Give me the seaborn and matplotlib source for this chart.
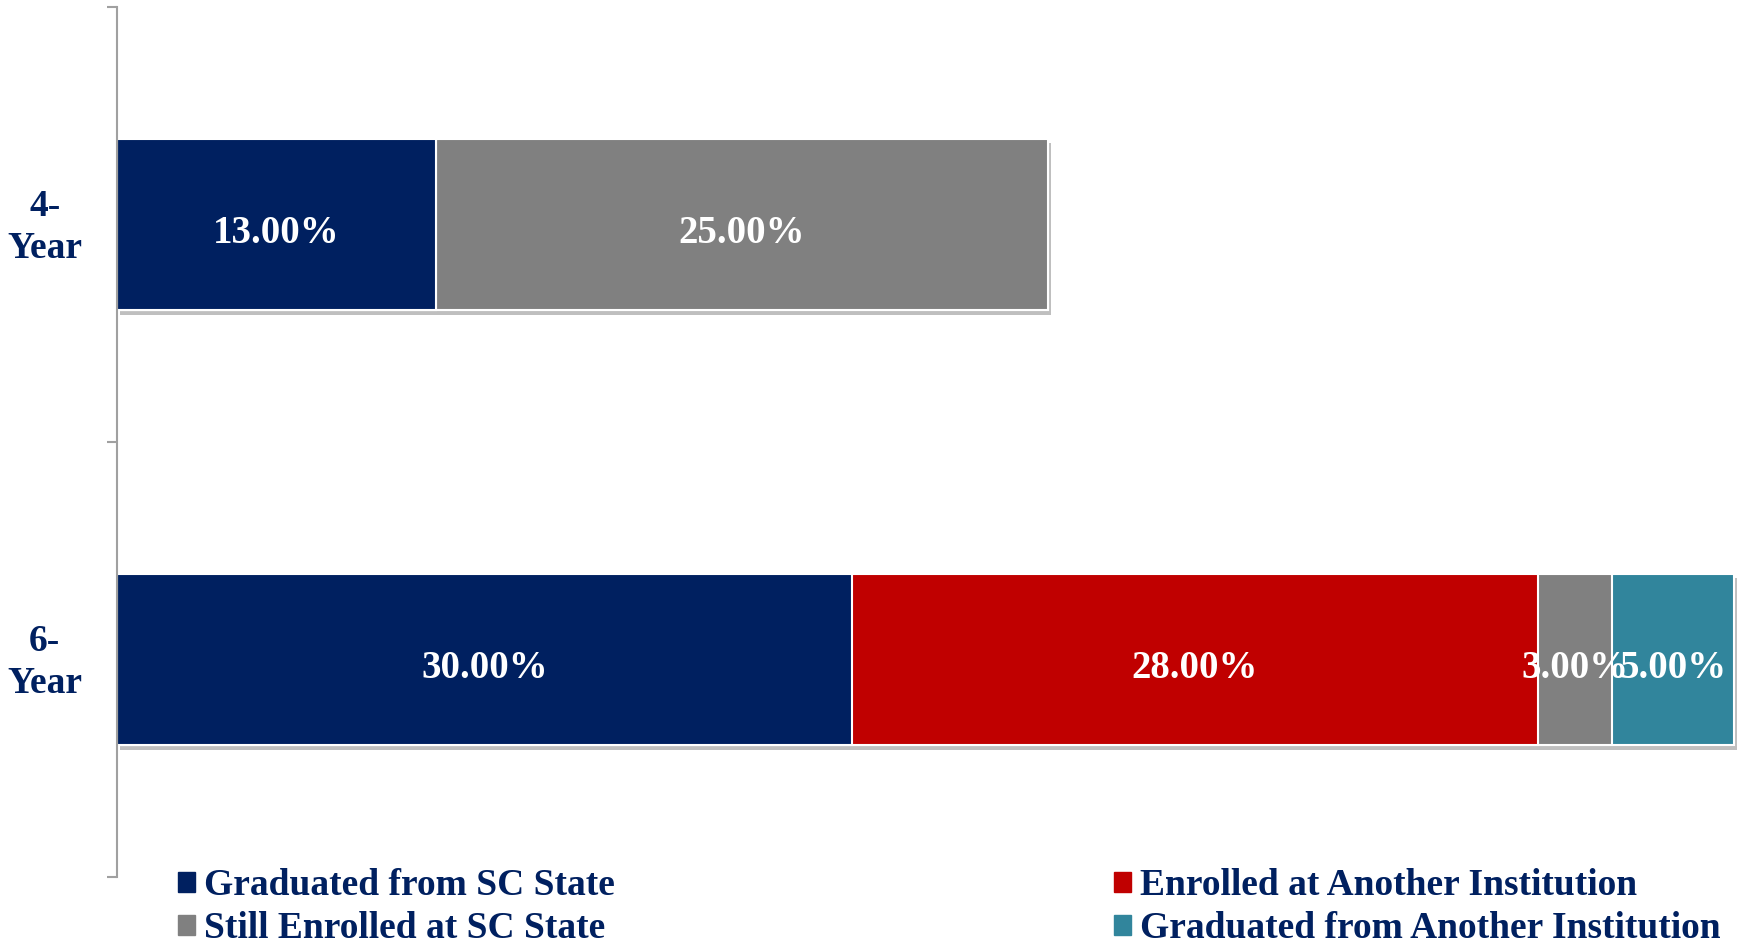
import numpy as np
import pandas as pd
import matplotlib
matplotlib.use("Agg")
import matplotlib.pyplot as plt
import matplotlib.patheffects as pe
from matplotlib.patches import Patch
import seaborn as sns

# data
categories = ["4-\nYear", "6-\nYear"]
series = ["Graduated from SC State", "Enrolled at Another Institution",
          "Still Enrolled at SC State", "Graduated from Another Institution"]
graduated_sc = [13, 30]
enrolled_other = [0, 28]
still_enrolled = [25, 3]
graduated_other = [0, 5]
colors = ["#002060", "#C00000", "#808080", "#31859C"]
navy = "#002060"

sns.set_style("white")
plt.rcParams['font.family'] = ['Liberation Serif', 'DejaVu Serif']
plt.rcParams['font.weight'] = 'bold'

W, H = 1742, 947
fig = plt.figure(figsize=(W / 100, H / 100), dpi=100)
ax = fig.add_axes([117 / W, 1 - 877 / H, 1 - 117 / W, 870 / H])

values = np.array([graduated_sc, enrolled_other, still_enrolled, graduated_other])
cum = values.cumsum(axis=0)

# draw cumulative bars from the longest down so each segment sits on top
for i in reversed(range(len(series))):
    df = pd.DataFrame({"year": categories, "pct": cum[i]})
    n_before = len(ax.patches)
    sns.barplot(data=df, x="pct", y="year", orient="h", color=colors[i],
                width=0.395, saturation=1, errorbar=None,
                edgecolor="white", linewidth=1.5, ax=ax)
    if i == len(series) - 1:
        for p in ax.patches[n_before:]:
            p.set_path_effects([pe.SimplePatchShadow(offset=(2, -3), shadow_rgbFace="black", alpha=0.25),
                                pe.Normal()])

# segment labels
for j in range(len(categories)):
    left = 0
    for i in range(len(series)):
        v = values[i, j]
        if v > 0:
            ax.text(left + v / 2, j + 0.02, f"{v:.2f}%", ha="center", va="center",
                    color="white", fontsize=28, fontweight="bold")
        left += v

ax.set_xlim(0, (W - 117) / 24.5)
ax.set_ylim(1.5, -0.5)
ax.xaxis.set_visible(False)
ax.set_xlabel("")
ax.set_ylabel("")
for s in ["top", "right", "bottom"]:
    ax.spines[s].set_visible(False)
ax.spines["left"].set_color("#A0A0A0")
ax.spines["left"].set_linewidth(1.5)

ax.set_yticks([-0.5, 0.5, 1.5], labels=["", "", ""])
ax.set_yticks([-0.01, 0.99], labels=categories, minor=True)
ax.tick_params(axis="y", which="major", length=7, width=1.5, color="#A0A0A0", left=True)
ax.tick_params(axis="y", which="minor", length=0, pad=52, labelsize=27, labelcolor=navy)
for lbl in ax.get_yticklabels(minor=True):
    lbl.set_ha("center")
    lbl.set_multialignment("center")
    lbl.set_linespacing(1.25)
    lbl.set_fontweight("bold")

order = [0, 2, 1, 3]
handles = [Patch(facecolor=colors[k], edgecolor=colors[k]) for k in order]
labels = [series[k] for k in order]
fig.legend(handles, labels, loc="upper left", bbox_to_anchor=(178 / W, 1 - 868 / H),
           ncol=2, frameon=False, handlelength=0.45, handleheight=0.45,
           handletextpad=0.25, columnspacing=13.3, labelspacing=0.22,
           borderpad=0, borderaxespad=0, labelcolor=navy,
           prop={"family": "Liberation Serif", "weight": "bold", "size": 27})

fig.savefig("out.png", dpi=100)
